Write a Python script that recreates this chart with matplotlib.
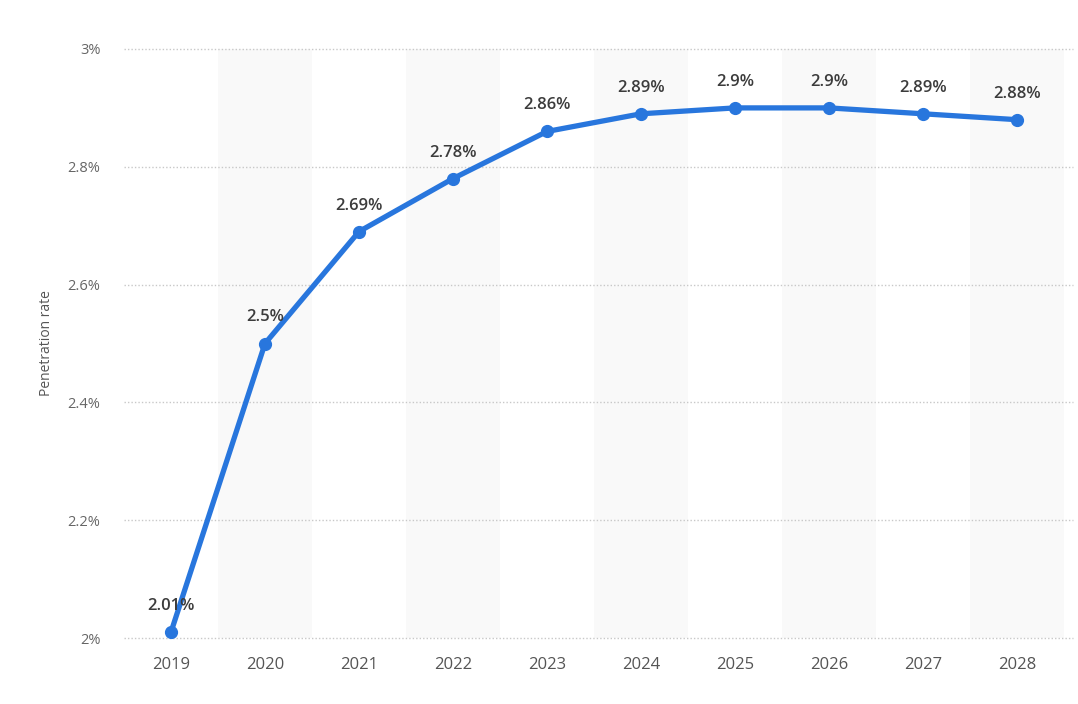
import matplotlib
matplotlib.use("Agg")
import matplotlib.pyplot as plt
from matplotlib.ticker import FuncFormatter

years = ["2019", "2020", "2021", "2022", "2023", "2024", "2025", "2026", "2027", "2028"]
rates = [2.01, 2.5, 2.69, 2.78, 2.86, 2.89, 2.9, 2.9, 2.89, 2.88]
labels = ["2.01%", "2.5%", "2.69%", "2.78%", "2.86%", "2.89%", "2.9%", "2.9%", "2.89%", "2.88%"]
yticks = [2.0, 2.2, 2.4, 2.6, 2.8, 3.0]

plt.rcParams['font.family'] = ['Open Sans', 'DejaVu Sans']

fig = plt.figure(figsize=(10.78, 7.04), dpi=100)
ax = fig.add_axes([124/1078, 66/704, (1064-124)/1078, (638-49)/704])

x = list(range(len(years)))
for i in x:
    if i % 2 == 1:
        ax.axvspan(i - 0.5, i + 0.5, color="#f9f9f9", zorder=0, lw=0)

ax.set_xlim(-0.5, len(years) - 0.5)
ax.set_ylim(2.0, 3.0)
ax.set_yticks(yticks)
ax.yaxis.set_major_formatter(FuncFormatter(lambda v, p: f"{v:g}%"))
ax.set_xticks(x)
ax.set_xticklabels(years)

for v in yticks:
    ax.plot([-0.5, len(years) - 0.5 + 0.1], [v, v], color="#c8c8c8", lw=1,
            linestyle=(0, (1, 1.5)), zorder=1, clip_on=False)

ax.plot(x, rates, color="#2876dd", lw=3.8, marker="o", markersize=8.5,
        zorder=3, clip_on=False, solid_capstyle="round")

for xi, v, lab in zip(x, rates, labels):
    ax.annotate(lab, (xi, v), xytext=(0, 13), textcoords="offset points",
                ha="center", va="bottom", fontsize=12, fontweight="semibold",
                color="#3c3c3c", zorder=4)

for s in ax.spines.values():
    s.set_visible(False)
ax.tick_params(axis="both", length=0)
ax.tick_params(axis="y", pad=17, labelsize=10.5, labelcolor="#666666")
ax.tick_params(axis="x", pad=14, labelsize=12, labelcolor="#555555")
ax.set_ylabel("Penetration rate", fontsize=10, color="#555555", labelpad=10)

fig.savefig("out.png", dpi=100, facecolor="white")
